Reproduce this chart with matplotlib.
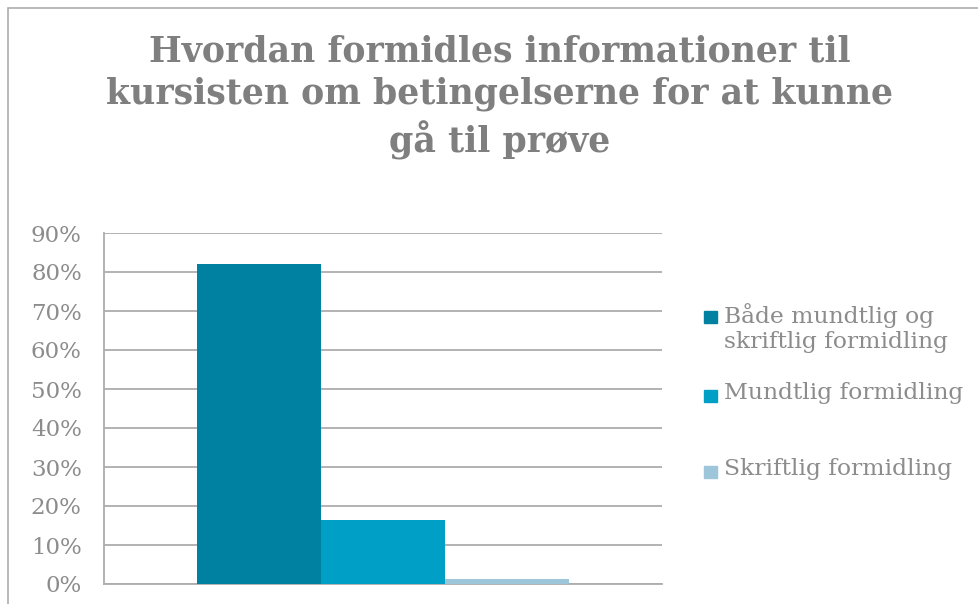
import matplotlib
matplotlib.use("Agg")
import matplotlib.pyplot as plt
from matplotlib.patches import Rectangle
from matplotlib.ticker import PercentFormatter

# survey answers (share of respondents)
series = ["Både mundtlig og\nskriftlig formidling", "Mundtlig formidling", "Skriftlig formidling"]
shares = [0.82, 0.164, 0.013]
colors = ["#0081A1", "#00A0C6", "#9EC6DA"]
yticks = [0.0, 0.1, 0.2, 0.3, 0.4, 0.5, 0.6, 0.7, 0.8, 0.9]
title = "Hvordan formidles informationer til\nkursisten om betingelserne for at kunne\ngå til prøve"

GRAY = "#8C8C8C"
GRID = "#ADADAD"
FONT = "DejaVu Serif"

W, H = 979, 604
fig = plt.figure(figsize=(W / 100, H / 100), dpi=100)

# outer chart frame (left and top edges visible)
fig.add_artist(Rectangle((8 / W, -0.1), 1.2, (H - 8) / H + 0.1, transform=fig.transFigure,
                         fill=False, edgecolor=GRID, lw=1.2))

ax = fig.add_axes([104 / W, 1 - 584 / H, (662 - 104) / W, (584 - 233) / H])
bw = 124 / (662 - 104)
for i, (s, v, c) in enumerate(zip(series, shares, colors)):
    ax.bar(0.5 + (i - 1) * bw, v, width=bw, color=c, zorder=3)

ax.set_xlim(0, 1)
ax.set_ylim(0, 0.9)
ax.set_yticks(yticks)
ax.yaxis.set_major_formatter(PercentFormatter(1.0, decimals=0))
ax.tick_params(axis="y", length=0, pad=16, labelsize=16.5, labelcolor=GRAY)
ax.tick_params(axis="x", length=0, labelbottom=False)
for lbl in ax.get_yticklabels():
    lbl.set_fontfamily(FONT)
ax.grid(axis="y", color=GRID, lw=1.3, zorder=0)
for side in ["top", "right"]:
    ax.spines[side].set_visible(False)
ax.spines["left"].set_color(GRID)
ax.spines["bottom"].set_color(GRID)
ax.spines["left"].set_linewidth(1.3)
ax.spines["bottom"].set_linewidth(1.3)

fig.text(500 / W, 1 - 97 / H, title, ha="center", va="center", fontsize=25,
         fontweight="bold", color="#7F7F7F", family=FONT, linespacing=1.3)

# legend entries placed by hand (uneven spacing)
leg_y = [317, 396, 472]
for s, c, y in zip(series, colors, leg_y):
    fig.add_artist(Rectangle((704 / W, 1 - (y + 6) / H), 13 / W, 12 / H,
                             transform=fig.transFigure, color=c))
    fig.text(724 / W, 1 - (y - 14) / H, s, ha="left", va="top", fontsize=16.8,
             color=GRAY, family=FONT, linespacing=1.2)

fig.savefig("out.png", dpi=100)
